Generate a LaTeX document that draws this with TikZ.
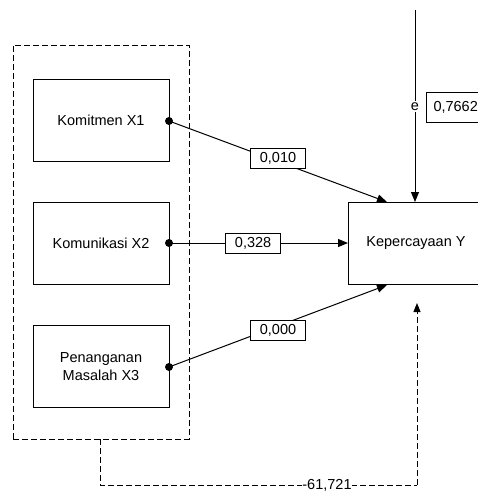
\documentclass[tikz,border=0pt]{standalone}
\usepackage{fontspec}
\setmainfont{Liberation Sans}
\usetikzlibrary{arrows.meta}
\begin{document}
\begin{tikzpicture}[x=1pt,y=-1pt,
  every node/.style={font=\fontsize{14.5}{18}\selectfont},
  varbox/.style={draw,line width=1pt,minimum width=136pt,minimum height=82pt,inner sep=0pt,align=center},
  lbl/.style={draw,fill=white,line width=1pt,minimum width=55pt,minimum height=20pt,inner sep=0pt},
  conn/.style={line width=1pt,-{Triangle[length=10pt,width=8pt]}},
  dashline/.style={line width=1pt,dash pattern=on 6pt off 3pt},
  dot/.style={circle,fill=black,inner sep=0pt,minimum size=8pt}]
\useasboundingbox (0,0) rectangle (478,491);
\clip (0,0) rectangle (478,491);
% dashed group box
\node[draw,dashline,minimum width=176pt,minimum height=394pt,inner sep=0pt] (grp) at (101,242) {};
% variable boxes
\node[varbox] (x1) at (101,120) {Komitmen X1};
\node[varbox] (x2) at (101,243) {Komunikasi X2};
\node[varbox] (x3) at (101,366.5) {Penanganan\\Masalah X3};
\node[varbox] (y) at (416,243) {Kepercayaan Y};
% dots
\node[dot] (d1) at (169,121) {};
\node[dot] (d2) at (169,243) {};
\node[dot] (d3) at (169,367) {};
% target coordinates
\coordinate (t1) at (387,202);
\coordinate (t2) at (348,243);
\coordinate (t3) at (387,285);
\coordinate (etop) at (415,10);
\coordinate (etip) at (415,202);
% connectors
\draw[conn] (d1.center) -- node[lbl,pos=0.5,yshift=3pt] (l1) {0,010} (t1);
\draw[conn] (d2.center) -- node[lbl,pos=0.47] (l2) {0,328} (t2);
\draw[conn] (d3.center) -- node[lbl,pos=0.5,yshift=-4pt] (l3) {0,000} (t3);
% error term
\draw[conn] (etop) -- node[fill=white,inner sep=1.5pt,pos=0.505] (e) {e} (etip);
\node[draw,fill=white,line width=1pt,anchor=west,minimum height=30pt,text width=50pt,inner xsep=7pt,align=left] (r2) at (426,107) {0,7662};
% dashed correlation path
\coordinate (c1) at (100,439);
\coordinate (c2) at (100,485);
\coordinate (c3) at (417,485);
\coordinate (c4) at (417,303);
\draw[dashline] (c1) -- (c2) -- (c3);
\draw[dashline,-{Triangle[length=9pt,width=7pt]}] (c3) -- (c4);
\node[fill=white,inner sep=0.5pt] (lc) at (327,485) {-61,721};
\end{tikzpicture}
\end{document}
